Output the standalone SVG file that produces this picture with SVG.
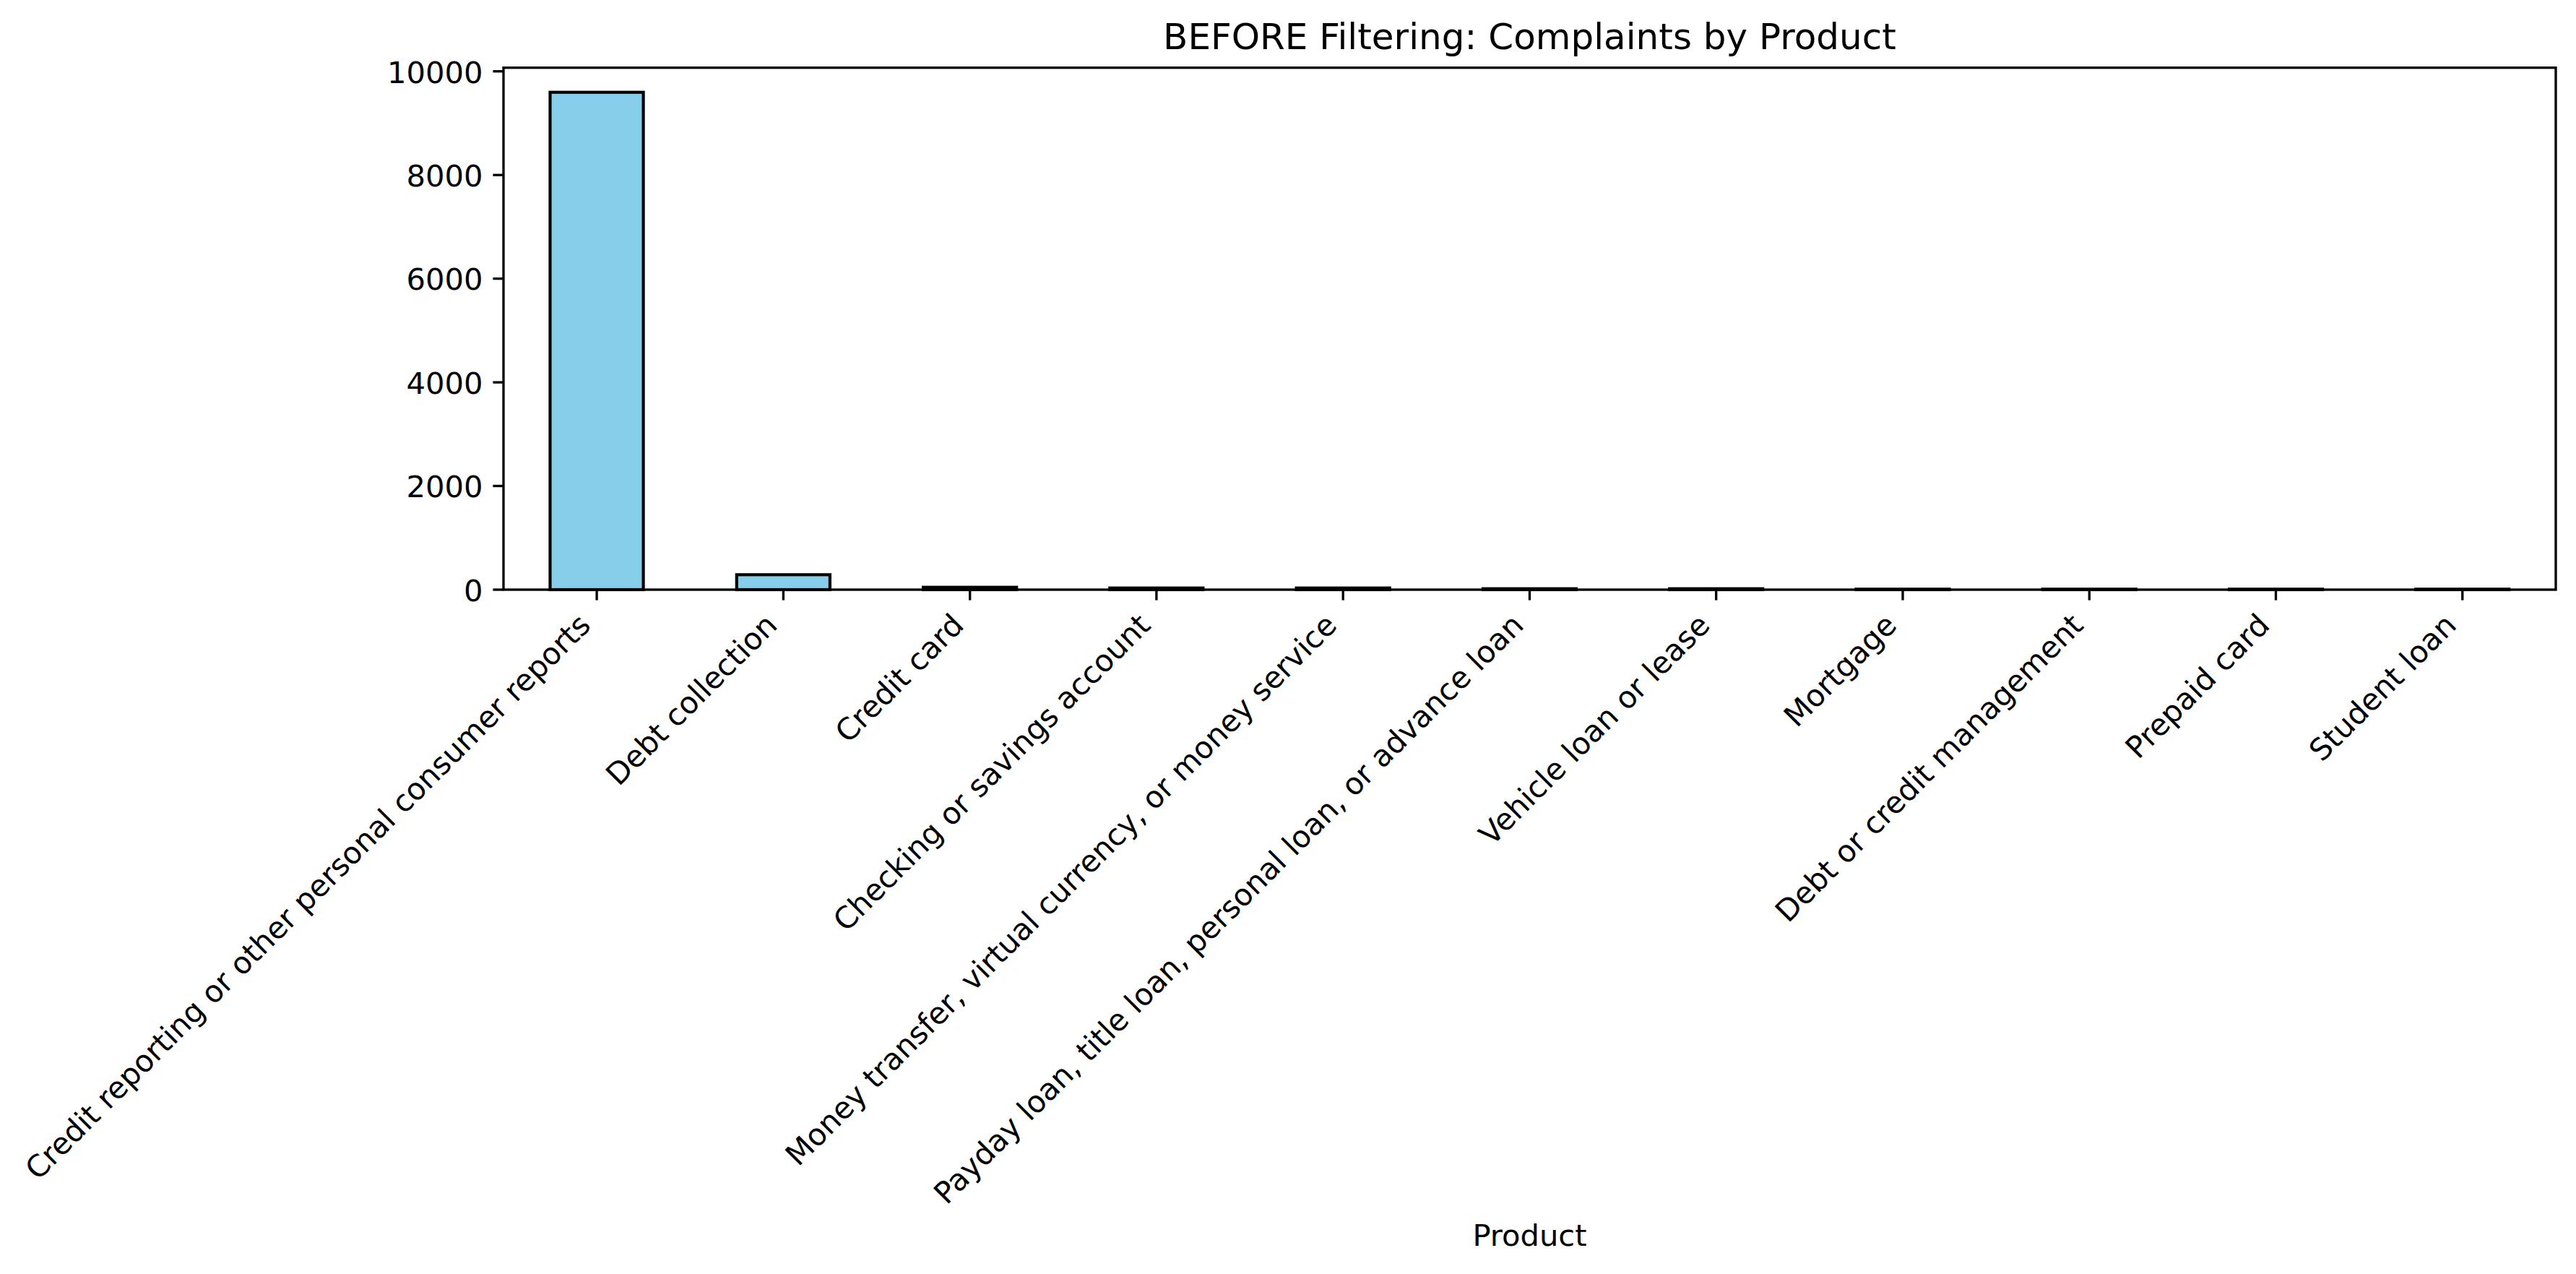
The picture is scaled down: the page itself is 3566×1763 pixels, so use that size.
<svg xmlns="http://www.w3.org/2000/svg" width="3566" height="1763" viewBox="0 0 3566 1763">
<style>
text{font-family:"DejaVu Sans","Liberation Sans",sans-serif;fill:#000}
.tl{font-size:41.67px}
.xl{font-size:41.67px;text-anchor:end}
.yl{font-size:41.67px;text-anchor:end}
.bar{fill:#87CEEB;stroke:#000;stroke-width:4.17}
.tick{stroke:#000;stroke-width:3.33}
.spine{fill:none;stroke:#000;stroke-width:3.33;stroke-linejoin:miter;stroke-linecap:square}
</style>
<rect width="3566" height="1763" fill="#fff"/>
<g id="bars">
<g id="bar-credit-reporting"><rect class="bar" x="761.5" y="127.7" width="129.1" height="688.3"/></g>
<g id="bar-debt-collection"><rect class="bar" x="1019.8" y="795.3" width="129.1" height="20.7"/></g>
<g id="bar-credit-card"><rect class="bar" x="1278.1" y="812.7" width="129.1" height="3.3"/></g>
<g id="bar-checking"><rect class="bar" x="1536.3" y="813.7" width="129.1" height="2.3"/></g>
<g id="bar-money-transfer"><rect class="bar" x="1794.6" y="813.7" width="129.1" height="2.3"/></g>
<g id="bar-payday"><rect class="bar" x="2052.9" y="814.7" width="129.1" height="1.3"/></g>
<g id="bar-vehicle"><rect class="bar" x="2311.1" y="814.7" width="129.1" height="1.3"/></g>
<g id="bar-mortgage"><rect class="bar" x="2569.4" y="815.3" width="129.1" height="0.7"/></g>
<g id="bar-debt-credit-mgmt"><rect class="bar" x="2827.7" y="815.3" width="129.1" height="0.7"/></g>
<g id="bar-prepaid"><rect class="bar" x="3085.9" y="815.3" width="129.1" height="0.7"/></g>
<g id="bar-student"><rect class="bar" x="3344.2" y="815.3" width="129.1" height="0.7"/></g>
</g>
<g id="axes">
<rect class="spine" x="697" y="93.7" width="2841" height="722.3"/>
<g id="yticks">
<line class="tick" x1="682.4" y1="816" x2="697" y2="816"/>
<line class="tick" x1="682.4" y1="672.5" x2="697" y2="672.5"/>
<line class="tick" x1="682.4" y1="529.1" x2="697" y2="529.1"/>
<line class="tick" x1="682.4" y1="385.6" x2="697" y2="385.6"/>
<line class="tick" x1="682.4" y1="242.2" x2="697" y2="242.2"/>
<line class="tick" x1="682.4" y1="98.7" x2="697" y2="98.7"/>
<text class="yl" x="668.5" y="831.8">0</text>
<text class="yl" x="668.5" y="688.3">2000</text>
<text class="yl" x="668.5" y="544.9">4000</text>
<text class="yl" x="668.5" y="401.4">6000</text>
<text class="yl" x="668.5" y="258.0">8000</text>
<text class="yl" x="668.5" y="114.5">10000</text>
</g>
<g id="xticks">
<line class="tick" x1="826.1" y1="816" x2="826.1" y2="830.6"/>
<line class="tick" x1="1084.4" y1="816" x2="1084.4" y2="830.6"/>
<line class="tick" x1="1342.7" y1="816" x2="1342.7" y2="830.6"/>
<line class="tick" x1="1600.9" y1="816" x2="1600.9" y2="830.6"/>
<line class="tick" x1="1859.2" y1="816" x2="1859.2" y2="830.6"/>
<line class="tick" x1="2117.5" y1="816" x2="2117.5" y2="830.6"/>
<line class="tick" x1="2375.7" y1="816" x2="2375.7" y2="830.6"/>
<line class="tick" x1="2634.0" y1="816" x2="2634.0" y2="830.6"/>
<line class="tick" x1="2892.3" y1="816" x2="2892.3" y2="830.6"/>
<line class="tick" x1="3150.5" y1="816" x2="3150.5" y2="830.6"/>
<line class="tick" x1="3408.8" y1="816" x2="3408.8" y2="830.6"/>
<text class="xl" transform="translate(819.9 867.6) rotate(-45)">Credit reporting or other personal consumer reports</text>
<text class="xl" transform="translate(1078.2 867.6) rotate(-45)">Debt collection</text>
<text class="xl" transform="translate(1336.5 867.6) rotate(-45)">Credit card</text>
<text class="xl" transform="translate(1594.7 867.6) rotate(-45)">Checking or savings account</text>
<text class="xl" transform="translate(1853.0 867.6) rotate(-45)">Money transfer, virtual currency, or money service</text>
<text class="xl" transform="translate(2111.3 867.6) rotate(-45)">Payday loan, title loan, personal loan, or advance loan</text>
<text class="xl" transform="translate(2369.5 867.6) rotate(-45)">Vehicle loan or lease</text>
<text class="xl" transform="translate(2627.8 867.6) rotate(-45)">Mortgage</text>
<text class="xl" transform="translate(2886.1 867.6) rotate(-45)">Debt or credit management</text>
<text class="xl" transform="translate(3144.3 867.6) rotate(-45)">Prepaid card</text>
<text class="xl" transform="translate(3402.6 867.6) rotate(-45)">Student loan</text>
</g>
</g>
<g id="labels">
<text id="title" x="2117.5" y="68" font-size="50" text-anchor="middle">BEFORE Filtering: Complaints by Product</text>
<text id="xlabel" class="tl" x="2117.5" y="1724" text-anchor="middle">Product</text>
</g>
<g id="connectors"/>
</svg>
